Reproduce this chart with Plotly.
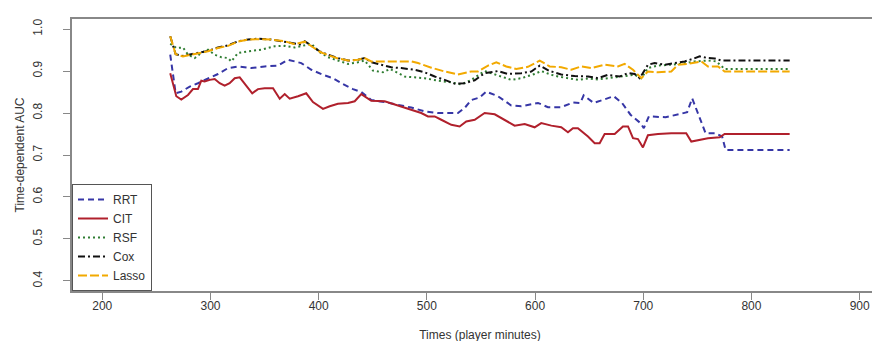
import plotly.graph_objects as go

# ---- data ----
rrt_x = [262.8, 267.8, 273.0, 280.8, 288.4, 297.7, 306.9, 316.2, 325.4, 337.7, 350.1, 362.4,
         371.6, 383.9, 393.2, 404.0, 413.2, 422.5, 431.7, 439.4, 448.6, 461.0, 473.3, 485.6,
         498.0, 510.3, 528.7, 534.9, 541.0, 548.8, 554.9, 565.7, 578.0, 587.3, 602.7, 611.9,
         624.2, 635.0, 641.9, 644.9, 654.2, 661.9, 672.7, 680.4, 688.2, 697.4, 700.5, 705.2,
         720.6, 732.9, 740.6, 745.2, 749.8, 757.6, 766.8, 772.9, 776.1, 835.3]
rrt_y = [0.939, 0.847, 0.851, 0.863, 0.871, 0.883, 0.893, 0.907, 0.911, 0.907, 0.911, 0.913,
         0.927, 0.919, 0.903, 0.891, 0.883, 0.869, 0.857, 0.850, 0.831, 0.826, 0.820, 0.813,
         0.804, 0.800, 0.800, 0.812, 0.831, 0.837, 0.851, 0.840, 0.818, 0.816, 0.824, 0.814,
         0.814, 0.825, 0.824, 0.842, 0.824, 0.831, 0.840, 0.824, 0.796, 0.776, 0.764, 0.792,
         0.790, 0.797, 0.802, 0.835, 0.804, 0.752, 0.752, 0.744, 0.712, 0.712]

cit_x = [262.8, 268.4, 273.0, 279.2, 283.8, 288.4, 291.5, 294.6, 299.3, 303.9, 308.5, 313.1,
         317.7, 322.4, 327.0, 331.6, 338.6, 343.9, 350.1, 357.8, 364.0, 368.6, 373.2, 380.9,
         388.5, 394.7, 404.0, 410.2, 417.8, 427.1, 433.3, 439.4, 448.6, 461.0, 470.2, 476.3,
         485.6, 494.8, 501.0, 507.2, 513.3, 522.6, 530.3, 536.4, 544.2, 553.4, 562.7, 571.9,
         581.1, 590.4, 599.6, 605.7, 615.0, 624.2, 630.4, 635.0, 639.6, 648.9, 655.1, 659.7,
         664.3, 673.6, 681.2, 685.9, 690.5, 695.1, 699.7, 704.3, 713.6, 725.9, 739.7, 744.4,
         752.1, 759.8, 770.6, 775.2, 835.3]
cit_y = [0.895, 0.840, 0.832, 0.843, 0.857, 0.857, 0.877, 0.875, 0.879, 0.881, 0.871, 0.865,
         0.871, 0.883, 0.885, 0.871, 0.847, 0.857, 0.859, 0.859, 0.834, 0.845, 0.834, 0.840,
         0.847, 0.826, 0.810, 0.816, 0.822, 0.824, 0.828, 0.845, 0.829, 0.828, 0.820, 0.816,
         0.808, 0.800, 0.792, 0.792, 0.784, 0.772, 0.768, 0.780, 0.784, 0.800, 0.797, 0.784,
         0.770, 0.774, 0.766, 0.776, 0.770, 0.766, 0.754, 0.764, 0.764, 0.744, 0.728, 0.728,
         0.750, 0.750, 0.768, 0.768, 0.740, 0.738, 0.718, 0.747, 0.750, 0.752, 0.752, 0.732,
         0.736, 0.740, 0.742, 0.750, 0.750]

rsf_x = [262.8, 268.4, 274.6, 279.2, 285.4, 291.5, 297.7, 303.9, 310.0, 316.2, 319.2, 325.4,
         334.7, 346.9, 359.3, 368.6, 377.8, 387.1, 393.2, 400.9, 408.6, 417.8, 427.1, 436.3,
         442.5, 450.2, 459.4, 466.0, 473.3, 479.5, 488.7, 498.0, 510.3, 522.6, 531.8, 541.0,
         553.4, 559.5, 568.8, 578.0, 587.3, 599.6, 605.7, 615.0, 621.2, 630.4, 639.6, 648.9,
         658.1, 667.4, 679.7, 692.1, 698.2, 704.3, 713.6, 722.8, 735.1, 747.5, 759.8, 767.5,
         775.2, 835.3]
rsf_y = [0.965, 0.955, 0.956, 0.939, 0.931, 0.943, 0.951, 0.939, 0.933, 0.931, 0.923, 0.943,
         0.947, 0.951, 0.959, 0.960, 0.956, 0.961, 0.965, 0.945, 0.933, 0.925, 0.917, 0.921,
         0.925, 0.901, 0.897, 0.905, 0.895, 0.887, 0.885, 0.883, 0.877, 0.873, 0.868, 0.879,
         0.900, 0.895, 0.887, 0.879, 0.883, 0.893, 0.900, 0.891, 0.887, 0.883, 0.879, 0.882,
         0.880, 0.883, 0.887, 0.891, 0.883, 0.907, 0.913, 0.915, 0.917, 0.923, 0.925, 0.923,
         0.905, 0.905]

cox_x = [262.8, 267.8, 274.6, 280.8, 288.4, 297.7, 306.9, 316.2, 325.4, 334.7, 343.9, 356.2,
         365.4, 374.7, 383.9, 387.1, 393.2, 400.9, 408.6, 417.8, 427.1, 436.3, 442.5, 448.6,
         457.9, 467.1, 476.3, 488.7, 498.0, 507.2, 516.4, 525.7, 534.9, 544.2, 553.4, 565.7,
         575.0, 587.3, 596.5, 604.3, 613.5, 624.2, 636.6, 648.9, 658.1, 667.4, 678.2, 685.9,
         692.1, 696.7, 704.3, 710.5, 719.8, 729.0, 738.3, 745.9, 752.1, 759.8, 766.0, 772.1,
         835.3]
cox_y = [0.983, 0.940, 0.936, 0.939, 0.943, 0.948, 0.956, 0.961, 0.971, 0.975, 0.977, 0.975,
         0.971, 0.967, 0.963, 0.971, 0.961, 0.947, 0.939, 0.931, 0.925, 0.927, 0.931, 0.921,
         0.915, 0.909, 0.907, 0.903, 0.897, 0.887, 0.879, 0.870, 0.871, 0.878, 0.895, 0.900,
         0.893, 0.895, 0.899, 0.913, 0.900, 0.892, 0.888, 0.887, 0.883, 0.891, 0.887, 0.895,
         0.893, 0.883, 0.915, 0.919, 0.915, 0.919, 0.923, 0.929, 0.935, 0.931, 0.930, 0.925,
         0.925]

lasso_x = [262.8, 267.8, 274.6, 280.8, 288.4, 297.7, 306.9, 316.2, 325.4, 334.7, 343.9, 356.2,
           368.6, 377.8, 387.1, 393.2, 400.9, 408.6, 417.8, 427.1, 436.3, 442.5, 448.6, 461.0,
           473.3, 485.6, 491.8, 504.1, 516.4, 528.7, 541.0, 547.2, 556.5, 564.2, 573.4, 582.6,
           593.4, 604.3, 613.5, 624.2, 633.5, 642.7, 652.0, 664.3, 676.6, 682.8, 690.5, 698.2,
           704.3, 713.6, 725.9, 732.1, 741.3, 753.6, 759.8, 769.1, 775.2, 835.3]
lasso_y = [0.983, 0.940, 0.935, 0.938, 0.942, 0.947, 0.955, 0.960, 0.970, 0.975, 0.976, 0.975,
           0.971, 0.964, 0.970, 0.960, 0.946, 0.938, 0.930, 0.925, 0.927, 0.931, 0.923, 0.923,
           0.923, 0.923, 0.919, 0.908, 0.899, 0.892, 0.899, 0.899, 0.913, 0.921, 0.911, 0.905,
           0.910, 0.925, 0.911, 0.909, 0.903, 0.911, 0.907, 0.915, 0.911, 0.917, 0.903, 0.883,
           0.899, 0.897, 0.899, 0.915, 0.917, 0.923, 0.911, 0.911, 0.899, 0.899]

x_ticks = [200, 300, 400, 500, 600, 700, 800, 900]
y_ticks = [0.4, 0.5, 0.6, 0.7, 0.8, 0.9, 1.0]
y_tick_labels = ["0.4", "0.5", "0.6", "0.7", "0.8", "0.9", "1.0"]

series = [
    ("RRT", rrt_x, rrt_y, "#3636a6", "6px,4px"),
    ("CIT", cit_x, cit_y, "#b0202c", "solid"),
    ("RSF", rsf_x, rsf_y, "#2f7d32", "2px,3px"),
    ("Cox", cox_x, cox_y, "#111111", "7px,3px,2px,3px"),
    ("Lasso", lasso_x, lasso_y, "#f2a900", "9px,3px"),
]

fig = go.Figure()
for name, xs, ys, color, dash in series:
    fig.add_trace(go.Scatter(x=xs, y=ys, mode="lines", name=name,
                             line=dict(color=color, width=2, dash=dash)))

font_family = "Liberation Sans, Arial, sans-serif"
fig.update_layout(
    width=880, height=341,
    margin=dict(l=64, r=0, t=11, b=58),
    paper_bgcolor="white", plot_bgcolor="white",
    font=dict(family=font_family, size=12, color="#333333"),
    showlegend=True,
    legend=dict(x=0, y=0, xanchor="left", yanchor="bottom",
                bgcolor="white", bordercolor="#555555", borderwidth=1,
                font=dict(size=12, color="#333333"), itemwidth=30,
                tracegroupgap=0),
    xaxis=dict(range=[172, 926.2], tickmode="array", tickvals=x_ticks,
               showgrid=False, zeroline=False, showline=True, mirror=True,
               linecolor="#888888", linewidth=2, ticks="outside", ticklen=7,
               tickcolor="#888888", tickwidth=1, ticklabelstandoff=-4,
               title=dict(text="Times (player minutes)", standoff=18,
                          font=dict(size=12, color="#333333"))),
    yaxis=dict(range=[0.376, 1.024], tickmode="array", tickvals=y_ticks,
               ticktext=y_tick_labels, tickangle=-90,
               showgrid=False, zeroline=False, showline=True, mirror=False,
               linecolor="#888888", linewidth=2, ticks="outside", ticklen=7,
               tickcolor="#888888", tickwidth=1, ticklabelstandoff=16,
               title=dict(text="Time-dependent AUC", standoff=4,
                          font=dict(size=12, color="#333333"))),
)

fig.write_html("out.html")
